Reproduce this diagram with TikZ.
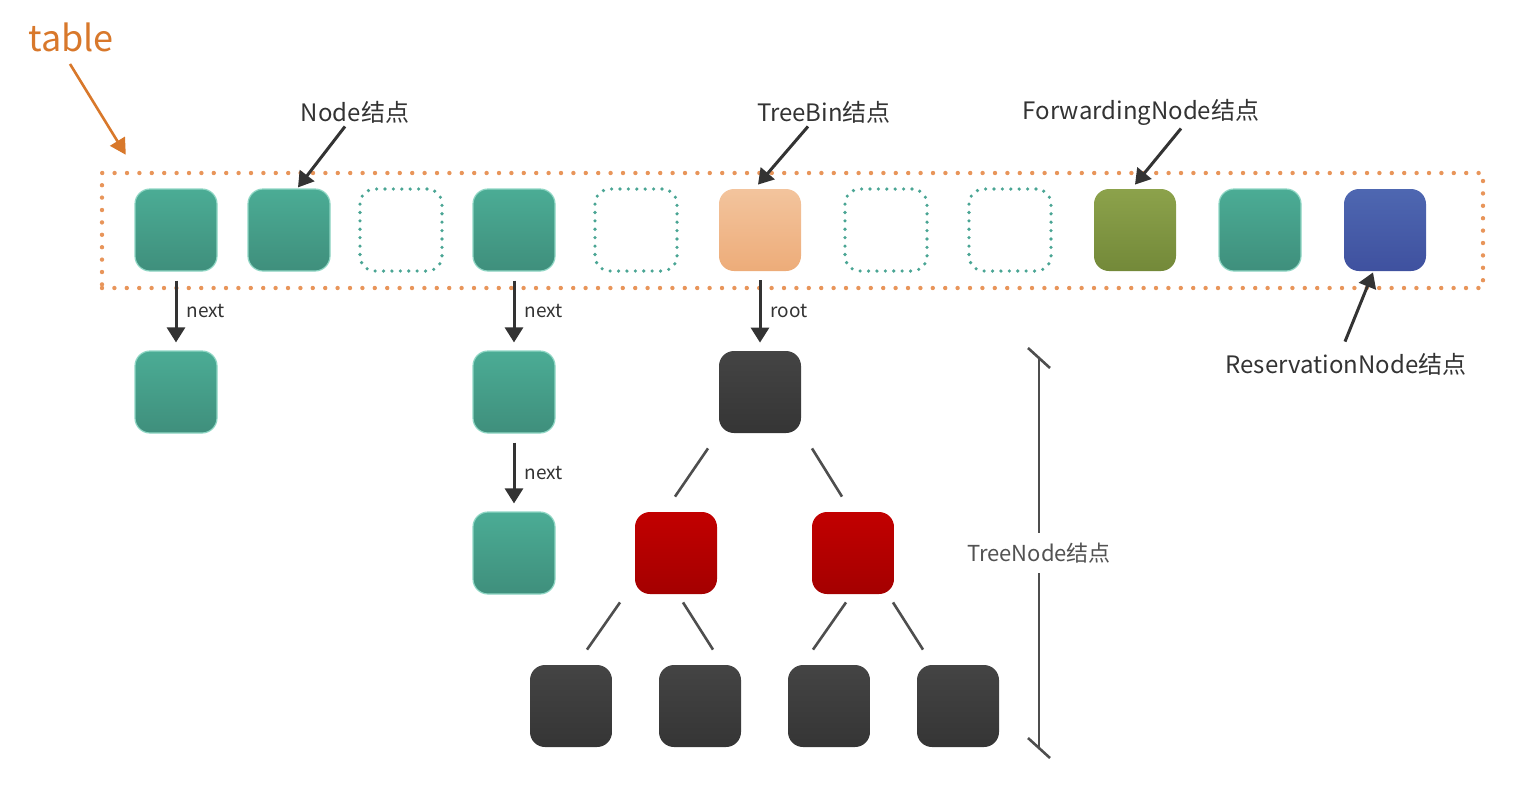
\documentclass[tikz,border=0pt]{standalone}
\usepackage{fontspec}
\setmainfont{Noto Sans CJK SC}
\usetikzlibrary{arrows.meta,positioning}

\definecolor{tealtop}{HTML}{4BAC95}
\definecolor{tealbot}{HTML}{3F8F7C}
\definecolor{tealedge}{HTML}{8FD6C4}
\definecolor{tealdot}{HTML}{4AA594}
\definecolor{bintop}{HTML}{F3C49D}
\definecolor{binbot}{HTML}{EDAC79}
\definecolor{fwdtop}{HTML}{8CA24B}
\definecolor{fwdbot}{HTML}{738939}
\definecolor{resvtop}{HTML}{4E67B1}
\definecolor{resvbot}{HTML}{3F519F}
\definecolor{redtop}{HTML}{C20000}
\definecolor{redbot}{HTML}{A40000}
\definecolor{darktop}{HTML}{444444}
\definecolor{darkbot}{HTML}{353535}
\definecolor{tblorange}{HTML}{E8955A}
\definecolor{tblarrow}{HTML}{D8782B}
\definecolor{ink}{HTML}{333333}
\definecolor{stem}{HTML}{4E4E4E}

\begin{document}
\begin{tikzpicture}[
    % 樣式
    x=0.5pt, y=-0.5pt,
    cell/.style={rectangle, rounded corners=7.5pt, minimum size=41pt, inner sep=0pt},
    teal cell/.style={cell, top color=tealtop, bottom color=tealbot, draw=tealedge, line width=0.6pt},
    empty cell/.style={cell, draw=tealdot, line width=1.8pt, line cap=round, dash pattern=on 0pt off 4.2pt},
    bin cell/.style={cell, top color=bintop, bottom color=binbot},
    fwd cell/.style={cell, top color=fwdtop, bottom color=fwdbot},
    resv cell/.style={cell, top color=resvtop, bottom color=resvbot},
    red cell/.style={cell, top color=redtop, bottom color=redbot},
    dark cell/.style={cell, top color=darktop, bottom color=darkbot},
    tablebox/.style={rectangle, draw=tblorange, line width=2.2pt, line cap=round, dash pattern=on 0pt off 6.2pt, inner sep=0pt},
    tag/.style={font=\fontsize{12}{15}\selectfont, text=ink, inner sep=1pt},
    lbl/.style={font=\fontsize{9.5}{11}\selectfont, text=ink, inner sep=1pt},
    link/.style={-{Triangle[length=7.5pt,width=9pt]}, line width=1.5pt, draw=ink},
    branch/.style={line width=1.3pt, draw=stem},
    span/.style={line width=1.3pt, draw=stem}
]

    \useasboundingbox (0,0) rectangle (1522,784);

    % --- table ---
    \node[tablebox, minimum width=690.5pt, minimum height=57.5pt] (tbl) at (792.5,230.5) {};
    \node[font=\fontsize{18}{21}\selectfont, text=tblarrow, inner sep=1pt] (tbllbl) at (71,37) {table};
    \draw[-{Triangle[length=8pt,width=8.5pt]}, line width=1.3pt, draw=tblarrow]
        ([shift={(-1,10)}]tbllbl.south) -- ([shift={(26,-16)}]tbl.north west);

    % --- 數組中的各個位置 ---
    \foreach \i/\x in {1/176,2/289,4/514,10/1260}
        \node[teal cell] (T-\i) at (\x,230) {};
    \foreach \i/\x in {3/401,5/636,7/886,8/1010}
        \node[empty cell] (T-\i) at (\x,230) {};
    \node[bin cell] (T-6) at (760,230) {};
    \node[fwd cell] (T-9) at (1135,230) {};
    \node[resv cell] (T-11) at (1385,230) {};

    % --- 鏈表 ---
    \node[teal cell] (L1-1) at (176,392) {};
    \node[teal cell] (L4-1) at (514,392) {};
    \node[teal cell] (L4-2) at (514,553) {};

    \draw[link, shorten <=4.5pt, shorten >=4pt] (T-1.south) -- node[lbl, right=3.5pt] {next} (L1-1.north);
    \draw[link, shorten <=4.5pt, shorten >=4pt] (T-4.south) -- node[lbl, right=3.5pt] {next} (L4-1.north);
    \draw[link, shorten <=4.5pt, shorten >=4pt] (L4-1.south) -- node[lbl, right=3.5pt] {next} (L4-2.north);

    % --- 紅黑樹 ---
    \node[dark cell] (root) at (760,392) {};
    \node[red cell] (R-1) at (676,553) {};
    \node[red cell] (R-2) at (853,553) {};
    \foreach \i/\x in {1/571,2/700,3/829,4/958}
        \node[dark cell] (B-\i) at (\x,706) {};

    \draw[link, shorten <=4.5pt, shorten >=4pt] (T-6.south) -- node[lbl, right=3.5pt] {root} (root.north);

    \draw[branch] ([shift={(-52,15)}]root.south) -- ([shift={(-1,-15)}]R-1.north);
    \draw[branch] ([shift={(52,15)}]root.south) -- ([shift={(-11,-15)}]R-2.north);
    \draw[branch] ([shift={(-56,8)}]R-1.south) -- ([shift={(16,-15)}]B-1.north);
    \draw[branch] ([shift={(7,8)}]R-1.south) -- ([shift={(13,-15)}]B-2.north);
    \draw[branch] ([shift={(-7,8)}]R-2.south) -- ([shift={(-16,-15)}]B-3.north);
    \draw[branch] ([shift={(40,8)}]R-2.south) -- ([shift={(-35,-15)}]B-4.north);

    % --- 標註 ---
    \node[tag] (nodetag) at (355,112) {Node结点};
    \node[tag] (bintag) at (824,112) {TreeBin结点};
    \node[tag] (fwdtag) at (1141,112) {ForwardingNode结点};
    \node[tag] (resvtag) at (1346,364) {ReservationNode结点};

    \draw[link] ([shift={(-10,1)}]nodetag.south) -- ([shift={(9,-1)}]T-2.north);
    \draw[link] ([shift={(-16,1)}]bintag.south) -- ([shift={(-2,-4)}]T-6.north);
    \draw[link] ([shift={(40,1)}]fwdtag.south) -- ([shift={(0,-4)}]T-9.north);
    \draw[link] ([shift={(-1,-9)}]resvtag.north) -- ([shift={(-12,1)}]T-11.south);

    % --- TreeNode 範圍 ---
    \coordinate (brtop) at (1039,358);
    \coordinate (brbot) at (1039,748);
    \draw[span] (brtop) -- node[fill=white, font=\fontsize{11}{13}\selectfont, text=ink!85, inner xsep=1pt, inner ysep=5pt] {TreeNode结点} (brbot);
    \draw[span] ([shift={(-11,-10)}]brtop) -- ([shift={(11,10)}]brtop);
    \draw[span] ([shift={(-11,-10)}]brbot) -- ([shift={(11,10)}]brbot);

\end{tikzpicture}
\end{document}
